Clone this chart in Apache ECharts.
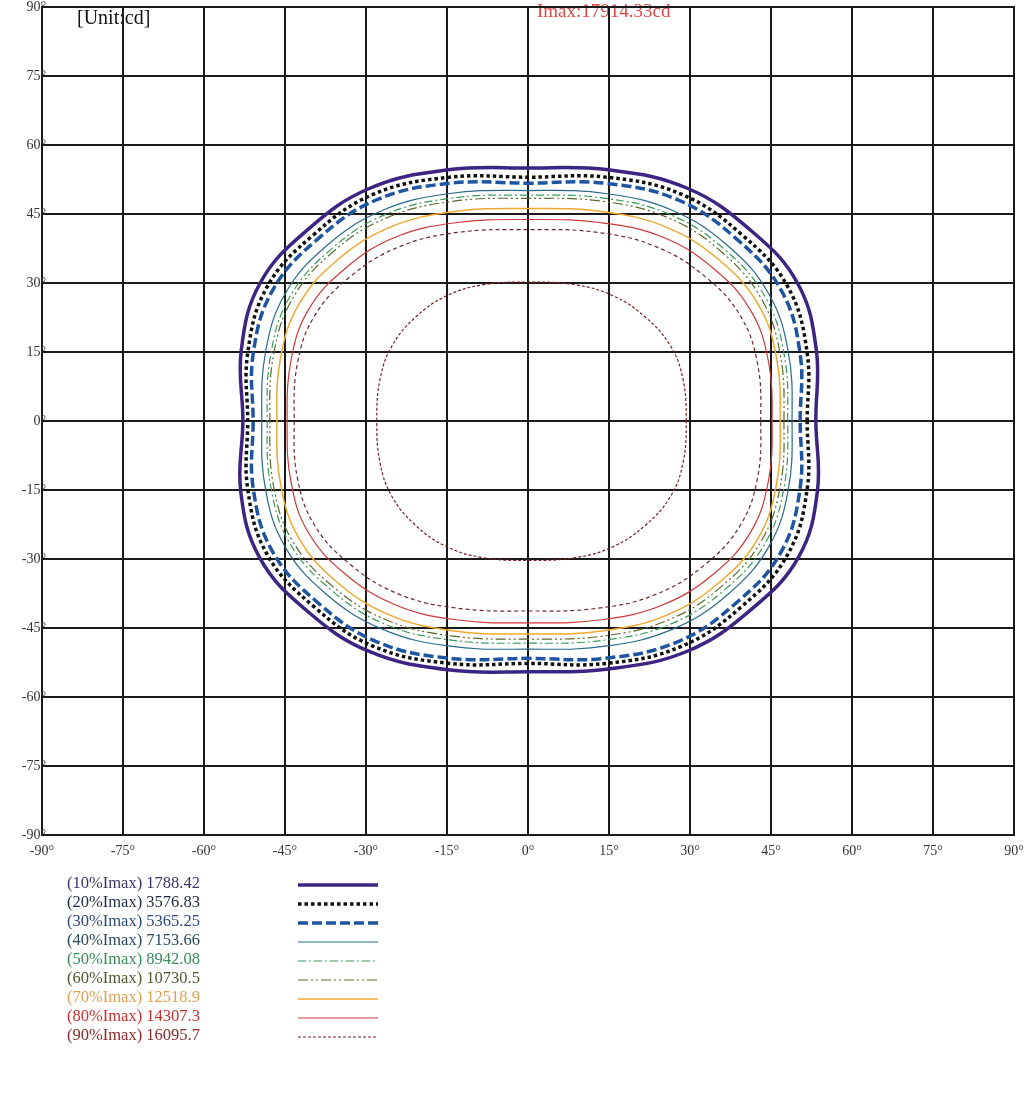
<!DOCTYPE html>
<html>
<head>
<meta charset="utf-8">
<title>Isocandela</title>
<script src="https://cdn.jsdelivr.net/npm/echarts@6.0.0/dist/echarts.min.js"></script>
<style>
html, body { margin: 0; padding: 0; background: #fff; }
#canvas { width: 1036px; height: 1104px; }
</style>
</head>
<body>
<div id="canvas"></div>
<script>
// 坐标刻度
var angleTicks = [-90, -75, -60, -45, -30, -15, 0, 15, 30, 45, 60, 75, 90];
var unitLabel = '[Unit:cd]';
var imax = '17914.33';

// 等光强线等级
var levelPct = [10, 20, 30, 40, 50, 60, 70, 80, 90];
var levelValues = ['1788.42', '3576.83', '5365.25', '7153.66', '8942.08', '10730.5', '12518.9', '14307.3', '16095.7'];

// 各等级闭合曲线上的点 [x, y]（度），按逆时针排列
var ring10 = [[53.3,0],[53.4,15.4],[49.9,30.0],[41.2,41.5],[29.5,50.6],[14.9,54.6],[0,55.0],[-14.8,54.6],[-29.3,50.6],[-40.9,41.5],[-49.6,30.0],[-53.1,15.4],[-52.8,0],[-53.2,-15.3],[-49.7,-29.7],[-41.0,-41.2],[-29.4,-50.1],[-14.8,-54.1],[0,-54.5],[14.9,-53.9],[29.6,-50.0],[41.3,-41.0],[50.1,-29.6],[53.6,-15.2]];
var ring20 = [[51.7,0],[51.7,14.8],[48.1,29.2],[39.6,40.5],[28.4,49.3],[14.5,53.0],[0,53.0],[-14.5,53.0],[-28.6,49.3],[-39.7,40.5],[-48.3,29.2],[-51.9,14.8],[-51.9,0],[-51.9,-14.8],[-48.3,-29.0],[-39.7,-40.3],[-28.6,-49.0],[-14.5,-52.7],[0,-52.7],[14.5,-52.7],[28.4,-49.0],[39.6,-40.3],[48.1,-29.0],[51.7,-14.8]];
var ring30 = [[50.4,0],[50.4,14.5],[46.9,28.4],[38.6,39.6],[27.7,48.1],[14.1,51.7],[0,51.7],[-14.3,51.7],[-28.0,48.1],[-38.9,39.6],[-47.3,28.4],[-50.9,14.5],[-50.9,0],[-50.9,-14.5],[-47.3,-28.4],[-38.9,-39.5],[-28.0,-48.0],[-14.3,-51.6],[0,-51.6],[14.1,-51.6],[27.7,-48.0],[38.6,-39.5],[46.9,-28.4],[50.4,-14.5]];
var ring40 = [[48.9,0],[48.2,15.0],[44.6,27.6],[37.1,38.0],[26.9,45.7],[14.7,49.4],[0,50.1],[-14.8,49.4],[-27.1,45.7],[-37.4,38.0],[-45.0,27.6],[-48.6,15.0],[-49.3,0],[-48.6,-14.9],[-45.0,-27.3],[-37.4,-37.6],[-27.1,-45.2],[-14.8,-48.9],[0,-49.6],[14.7,-48.9],[26.9,-45.2],[37.1,-37.6],[44.6,-27.3],[48.2,-14.9]];
var ring50 = [[48.1,0],[47.4,14.7],[43.9,27.0],[36.5,37.2],[26.5,44.8],[14.4,48.4],[0,49.1],[-14.5,48.4],[-26.6,44.8],[-36.6,37.2],[-44.1,27.0],[-47.6,14.7],[-48.3,0],[-47.6,-14.5],[-44.1,-26.6],[-36.6,-36.6],[-26.6,-44.1],[-14.5,-47.6],[0,-48.3],[14.4,-47.6],[26.5,-44.1],[36.5,-36.6],[43.9,-26.6],[47.4,-14.5]];
var ring60 = [[47.4,0],[46.7,14.5],[43.2,26.6],[35.9,36.7],[26.1,44.1],[14.2,47.7],[0,48.4],[-14.3,47.7],[-26.3,44.1],[-36.2,36.7],[-43.6,26.6],[-47.1,14.5],[-47.8,0],[-47.1,-14.2],[-43.6,-26.1],[-36.2,-35.9],[-26.3,-43.2],[-14.3,-46.7],[0,-47.4],[14.2,-46.7],[26.1,-43.2],[35.9,-35.9],[43.2,-26.1],[46.7,-14.2]];
var ring70 = [[46.7,0],[46.0,13.9],[42.6,25.4],[35.4,35.0],[25.7,42.1],[14.0,45.5],[0,46.2],[-14.0,45.5],[-25.6,42.1],[-35.3,35.0],[-42.4,25.4],[-45.8,13.9],[-46.5,0],[-45.8,-13.9],[-42.4,-25.5],[-35.3,-35.1],[-25.6,-42.2],[-14.0,-45.6],[0,-46.3],[14.0,-45.6],[25.7,-42.2],[35.4,-35.1],[42.6,-25.5],[46.0,-13.9]];
var ring80 = [[45.2,0],[44.5,13.1],[41.2,24.1],[34.3,33.2],[24.9,40.0],[13.6,43.1],[0,43.8],[-13.4,43.1],[-24.5,40.0],[-33.8,33.2],[-40.7,24.1],[-43.9,13.1],[-44.6,0],[-43.9,-13.2],[-40.7,-24.2],[-33.8,-33.3],[-24.5,-40.0],[-13.4,-43.2],[0,-43.9],[13.6,-43.2],[24.9,-40.0],[34.3,-33.3],[41.2,-24.2],[44.5,-13.2]];
var ring85 = [[43.1,0],[42.5,12.5],[39.3,22.9],[32.7,31.5],[23.7,37.9],[12.9,41.0],[0,41.6],[-13.0,41.0],[-23.8,37.9],[-32.8,31.5],[-39.5,22.9],[-42.7,12.5],[-43.3,0],[-42.7,-12.4],[-39.5,-22.7],[-32.8,-31.3],[-23.8,-37.7],[-13.0,-40.7],[0,-41.3],[12.9,-40.7],[23.7,-37.7],[32.7,-31.3],[39.3,-22.7],[42.5,-12.4]];
var ring90 = [[29.3,0],[28.7,9.1],[26.4,16.3],[21.8,22.5],[15.8,27.2],[8.8,29.6],[0,30.2],[-8.4,29.6],[-15.1,27.2],[-20.9,22.5],[-25.2,16.3],[-27.4,9.1],[-28.0,0],[-27.4,-9.1],[-25.2,-16.4],[-20.9,-22.6],[-15.1,-27.3],[-8.4,-29.7],[0,-30.3],[8.8,-29.7],[15.8,-27.3],[21.8,-22.6],[26.4,-16.4],[28.7,-9.1]];

var rings = [ring10, ring20, ring30, ring40, ring50, ring60, ring70, ring80, ring90];

// 线型
var lineStyles = [
    { color: '#3b2482', width: 3.5, dash: null },
    { color: '#111111', width: 3.5, dash: [3.5, 3] },
    { color: '#1f55a0', width: 3.5, dash: [10, 4] },
    { color: '#2a6a88', width: 1.2, dash: null },
    { color: '#3a9a5a', width: 1.2, dash: [8, 3, 2, 3] },
    { color: '#5a6a2a', width: 1.2, dash: [10, 3, 2, 3, 2, 3] },
    { color: '#f0a830', width: 1.5, dash: null },
    { color: '#d03838', width: 1.2, dash: null },
    { color: '#7a2020', width: 1.2, dash: [3, 2] }
];
var extraStyle = { color: '#6a2a2a', width: 1.2, dash: [4, 3] };
var textColors = ['#3d3566', '#1f2a44', '#2f4a7a', '#2d4a5e', '#3a8a5a', '#4d5a30', '#e0a050', '#c83030', '#8a2a2a'];

var font = 'Liberation Serif';

// 闭合平滑曲线（自定义系列，用坐标轴换算）
function ringSeries(name, pts, st) {
    return {
        name: name,
        type: 'custom',
        coordinateSystem: 'cartesian2d',
        data: pts,
        silent: true,
        renderItem: function (params, api) {
            if (params.dataIndex !== 0) return null;
            var p = [];
            for (var k = 0; k < pts.length; k++) {
                p.push(api.coord(pts[k]));
            }
            return {
                type: 'polygon',
                shape: { points: p, smooth: 0.4 },
                style: { fill: 'none', stroke: st.color, lineWidth: st.width, lineDash: st.dash }
            };
        }
    };
}

var series = [];
var graphics = [
    { type: 'text', left: 77, top: 9, style: { text: unitLabel, font: '20px "Liberation Serif"', fill: '#111' } },
    { type: 'text', left: 537, top: 3, style: { text: 'Imax:' + imax + 'cd', font: '19px "Liberation Serif"', fill: '#e04848' } }
];
for (var i = 0; i < rings.length; i++) {
    var name = '(' + levelPct[i] + '%Imax) ' + levelValues[i];
    series.push(ringSeries(name, rings[i], lineStyles[i]));
    var cy = 885 + 19 * i;
    graphics.push({
        type: 'text', left: 67, top: cy - 10,
        style: { text: name, font: '16.5px "Liberation Serif"', fill: textColors[i] }
    });
    graphics.push({
        type: 'line',
        shape: { x1: 298, y1: cy, x2: 378, y2: cy },
        style: { stroke: lineStyles[i].color, lineWidth: lineStyles[i].width, lineDash: lineStyles[i].dash }
    });
}
// 80%与90%之间的一圈（图例未列出）
series.push(ringSeries('extra', ring85, extraStyle));

var dom = document.getElementById('canvas');
var myChart = echarts.init(dom);
var option = {
    animation: false,
    backgroundColor: '#ffffff',
    grid: {
        left: 42, top: 7, width: 972, height: 828,
        outerBoundsMode: 'none',
        show: true, borderColor: '#1a1a1a', borderWidth: 2
    },
    xAxis: {
        type: 'value',
        min: angleTicks[0], max: angleTicks[angleTicks.length - 1], interval: 15,
        axisLine: { show: true, lineStyle: { color: '#1a1a1a', width: 2 } },
        axisTick: { show: false },
        splitLine: { show: true, lineStyle: { color: '#1a1a1a', width: 2 } },
        axisLabel: {
            margin: 9, color: '#333', fontFamily: font, fontSize: 14,
            formatter: function (v) { return v + '°'; }
        }
    },
    yAxis: {
        type: 'value',
        min: angleTicks[0], max: angleTicks[angleTicks.length - 1], interval: 15,
        axisLine: { show: true, lineStyle: { color: '#1a1a1a', width: 2 } },
        axisTick: { show: false },
        splitLine: { show: true, lineStyle: { color: '#1a1a1a', width: 2 } },
        axisLabel: {
            margin: -4, color: '#333', fontFamily: font, fontSize: 14,
            formatter: function (v) { return v + '°'; }
        }
    },
    graphic: graphics,
    series: series
};
myChart.setOption(option);
window.onresize = myChart.resize;
</script>
</body>
</html>
